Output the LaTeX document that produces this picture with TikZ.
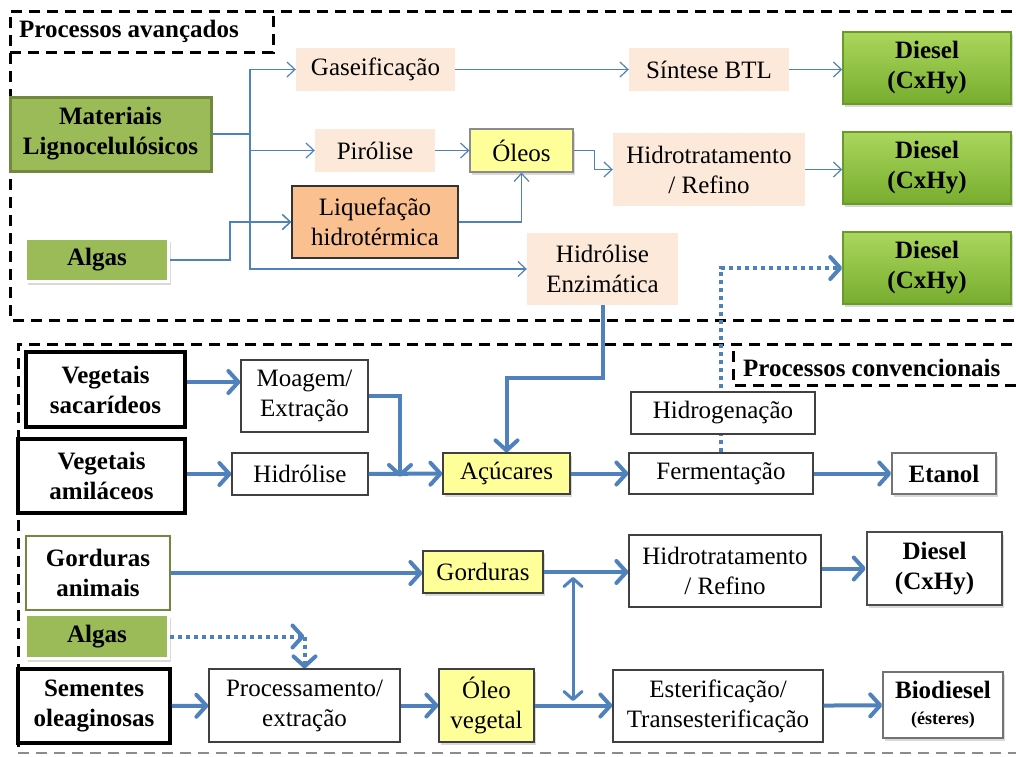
\documentclass[tikz,border=0pt]{standalone}
\usepackage{fontspec}
\setmainfont{Liberation Serif}
\usetikzlibrary{arrows.meta,positioning,shadows,calc}
\definecolor{azul}{HTML}{4F81BD}
\definecolor{verde}{HTML}{9BBB59}
\definecolor{verdeesc}{HTML}{71893F}
\definecolor{pessego}{HTML}{FDE9D9}
\definecolor{laranja}{HTML}{FAC090}
\definecolor{amarelo}{HTML}{FFFF99}
\definecolor{dieselclaro}{HTML}{AAD65C}
\definecolor{dieselesc}{HTML}{77AD2F}
\definecolor{dieselborda}{HTML}{6A9A2C}

\tikzset{
  caixa/.style={align=center, inner sep=0pt, font=\fontsize{25}{30}\selectfont},
  negrito/.style={caixa, font=\fontsize{25}{30}\selectfont\bfseries},
  sombra/.style={drop shadow={shadow xshift=2pt, shadow yshift=-3pt, opacity=0.3}},
  pessegobox/.style={caixa, fill=pessego},
  simples/.style={caixa, draw=black!75, line width=1.2pt, fill=white},
  amarelobox/.style={simples, fill=amarelo, sombra},
  fontebox/.style={negrito, draw=black, line width=3.5pt, fill=white},
  algasbox/.style={negrito, fill=verde, draw=white, line width=3pt, sombra},
  dieselbox/.style={negrito, top color=dieselclaro, bottom color=dieselesc, draw=dieselborda, line width=1.5pt, sombra},
  produto/.style={negrito, draw=black!55, line width=1.5pt, fill=white, sombra},
  fino/.style={azul, line width=1.2pt, -{Straight Barb[length=8pt,width=15pt]}},
  grosso/.style={azul, line width=4pt, -{Straight Barb[length=10pt,width=22pt,round]}},
  pontilhado/.style={grosso, dash pattern=on 4pt off 4pt},
  tracejado/.style={line width=3pt, dash pattern=on 11pt off 7pt},
}

\begin{document}
\begin{tikzpicture}[x=1pt,y=-1pt]
  \useasboundingbox (0,0) rectangle (1016,756);

  % molduras
  \draw[tracejado] (1030,11) -- (10,11) -- (10,320) -- (1030,320);
  \draw[tracejado] (10,52) -- (273,52) -- (273,11);
  \node[negrito, anchor=west] (tavanc) at (19,31) {Processos avançados};
  \draw[tracejado] (1030,344) -- (18,344) -- (18,752);
  \draw[tracejado, black!45, line width=2pt] (18,753) -- (1030,753);
  \draw[tracejado] (733,351) -- (733,385) -- (1030,385);
  \node[negrito, anchor=west] (tconv) at (743,368) {Processos convencionais};

  % processos avancados
  \node[negrito, fill=verde, draw=verdeesc, line width=3pt, minimum width=201pt, minimum height=74pt] (mat) at (110.5,134) {Materiais\\Lignocelulósicos};
  \node[algasbox, minimum width=143pt, minimum height=43pt] (algasA) at (97,260) {Algas};
  \node[pessegobox, minimum width=159pt, minimum height=43pt] (gas) at (375.5,69.5) {Gaseificação};
  \node[pessegobox, minimum width=120pt, minimum height=43pt] (piro) at (375,150.5) {Pirólise};
  \node[amarelobox, draw=black!45, minimum width=103pt, minimum height=43pt] (oleos) at (521.5,150.5) {Óleos};
  \node[caixa, fill=laranja, draw=black!80, line width=1.5pt, minimum width=166pt, minimum height=72pt] (liq) at (375,222) {Liquefação\\hidrotérmica};
  \node[pessegobox, minimum width=151pt, minimum height=72pt] (hidenz) at (602.5,269) {Hidrólise\\Enzimática};
  \node[pessegobox, minimum width=160pt, minimum height=43pt] (btl) at (709,69.5) {Síntese BTL};
  \node[pessegobox, minimum width=192pt, minimum height=73pt] (hidroA) at (709,169.5) {Hidrotratamento\\/ Refino};
  \foreach \n/\y in {dieselA/68,dieselB/168,dieselC/268}
    \node[dieselbox, minimum width=168pt, minimum height=72pt] (\n) at (927,\y) {Diesel\\(CxHy)};

  \coordinate (ramo) at (250,134);
  \coordinate (algasdobra) at (230,260);
  \draw[azul, line width=1.2pt] (mat.east) -- (ramo);
  \foreach \n in {gas,piro,liq,hidenz}
    \draw[fino] (ramo) |- (\n.west);
  \draw[fino] (algasA.east) -- (algasdobra) |- (liq.west);
  \draw[fino] (gas) -- (btl);
  \draw[fino] (btl) -- (btl -| dieselA.west);
  \draw[fino] (piro) -- (oleos);
  \draw[fino] (liq.east) -| (oleos.south);
  \draw[fino] (oleos.east) -- ++(21,0) |- (hidroA.west);
  \draw[fino] (hidroA.east) -- (hidroA.east -| dieselB.west);

  % processos convencionais
  \node[fontebox, minimum width=159pt, minimum height=75pt] (vsac) at (105.5,389.5) {Vegetais\\sacarídeos};
  \node[fontebox, minimum width=167pt, minimum height=74pt] (vami) at (101.5,476) {Vegetais\\amiláceos};
  \node[negrito, draw=verdeesc, line width=2.5pt, fill=white, minimum width=144pt, minimum height=74pt] (gani) at (98,573) {Gorduras\\animais};
  \node[algasbox, minimum width=143pt, minimum height=44pt] (algasB) at (97,636.5) {Algas};
  \node[fontebox, minimum width=152pt, minimum height=74pt] (sem) at (94,706) {Sementes\\oleaginosas};
  \node[simples, minimum width=127pt, minimum height=72pt] (moag) at (304.5,396) {Moagem/\\Extração};
  \node[simples, minimum width=136pt, minimum height=42pt] (hidr) at (300,474) {Hidrólise};
  \node[amarelobox, minimum width=127pt, minimum height=41pt] (acu) at (506.5,473.5) {Açúcares};
  \node[amarelobox, minimum width=120pt, minimum height=42pt] (gord) at (483,572) {Gorduras};
  \node[simples, minimum width=191pt, minimum height=73pt] (proc) at (304.5,705.5) {Processamento/\\extração};
  \node[amarelobox, minimum width=95pt, minimum height=73pt] (oleo) at (486.5,705.5) {Óleo\\vegetal};
  \node[simples, minimum width=184pt, minimum height=41pt] (ferm) at (721,473.5) {Fermentação};
  \node[produto, minimum width=104pt, minimum height=41pt] (etanol) at (944,473.5) {Etanol};
  \node[simples, minimum width=192pt, minimum height=72pt] (hidroB) at (725,571) {Hidrotratamento\\/ Refino};
  \node[produto, draw=black!70, line width=2.5pt, minimum width=135pt, minimum height=73pt] (dieselD) at (934.5,568.5) {Diesel\\(CxHy)};
  \node[simples, minimum width=210pt, minimum height=72pt] (ester) at (718,706) {Esterificação/\\Transesterificação};
  \node[produto, minimum width=120pt, minimum height=66pt] (bio) at (943,705) {Biodiesel\\[-4pt]{\fontsize{18}{20}\selectfont (ésteres)}};

  % rota pontilhada ate o diesel (Hidrogenacao por cima)
  \draw[pontilhado] (ferm.north) |- (dieselC.west);
  \node[simples, minimum width=184pt, minimum height=42pt] (hidrog) at (723,413) {Hidrogenação};

  \coordinate (juncao) at (400,477);
  \coordinate (vtopo) at (573,577);
  \coordinate (vbase) at (573,701);
  \coordinate (dobraalg) at (proc.north |- algasB.east);
  \draw[grosso] ([yshift=7.5pt]vsac.east) -- ([yshift=7.5pt]vsac.east -| moag.west);
  \draw[grosso] (moag.east) -| (juncao);
  \draw[grosso] (vami.east |- hidr.west) -- (hidr.west);
  \draw[grosso] (hidr) -- (acu);
  \draw[grosso] (hidenz.south) -- ++(0,73) -| (acu.north);
  \draw[grosso] (acu) -- (ferm);
  \draw[grosso] (ferm) -- (etanol);
  \draw[grosso] (gani.east) -- (gani.east -| gord.west);
  \draw[grosso] (gord.east) -- (gord.east -| hidroB.west);
  \draw[grosso] (hidroB.east |- dieselD.west) -- (dieselD.west);
  \draw[grosso, line width=3pt, {Straight Barb[length=8pt,width=18pt,round]}-{Straight Barb[length=8pt,width=18pt,round]}] (vtopo) -- (vbase);
  \draw[pontilhado] (algasB.east) -- (dobraalg);
  \draw[pontilhado] (dobraalg) -- (proc.north);
  \draw[grosso] (sem) -- (proc);
  \draw[grosso] (proc) -- (oleo);
  \draw[grosso] (oleo.east) -- (oleo.east -| ester.west);
  \draw[grosso] (ester) -- (bio);
\end{tikzpicture}
\end{document}
